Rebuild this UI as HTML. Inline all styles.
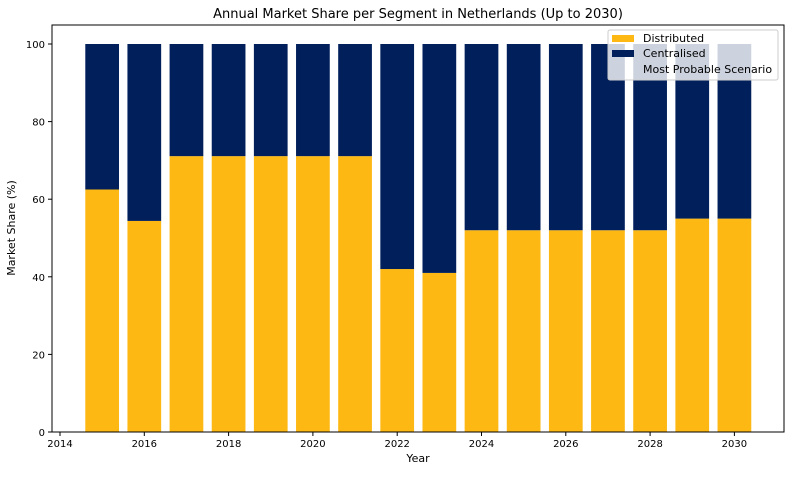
<!DOCTYPE html>
<html><head><meta charset="utf-8"><style>
body{margin:0;background:#fff;font-family:"Liberation Sans","DejaVu Sans",sans-serif;}
</style></head><body>
<svg id="chart" width="792" height="472" xmlns="http://www.w3.org/2000/svg" font-family="DejaVu Sans, Liberation Sans, sans-serif">
<text x="418" y="18" text-anchor="middle" font-size="13">Annual Market Share per Segment in Netherlands (Up to 2030)</text>
<g id="bars"></g>
<g id="axes"></g>
<text x="418" y="462" text-anchor="middle" font-size="11">Year</text>
<text x="15" y="228" text-anchor="middle" font-size="11" transform="rotate(-90 15 228)">Market Share (%)</text>
<g>
<rect x="608" y="30" width="170" height="50" rx="2" fill="#fff" fill-opacity="0.8" stroke="#ccc"/>
<rect x="612" y="35" width="22" height="7" fill="#fdb813"/>
<text x="643" y="42" font-size="11">Distributed</text>
<rect x="612" y="50" width="22" height="7" fill="#001f5b"/>
<text x="643" y="57" font-size="11">Centralised</text>
<text x="643" y="73" font-size="11">Most Probable Scenario</text>
</g>
</svg>
<script>
const years=[2015,2016,2017,2018,2019,2020,2021,2022,2023,2024,2025,2026,2027,2028,2029,2030];
const distributed=[62.5,54.4,71.1,71.1,71.1,71.1,71.1,42,41,52,52,52,52,52,55,55];
const centralised=[37.5,45.6,28.9,28.9,28.9,28.9,28.9,58,59,48,48,48,48,48,45,45];
const xTicks=[2014,2016,2018,2020,2022,2024,2026,2028,2030];
const yTicks=[0,20,40,60,80,100];
const L=52,R=784,T=25,B=432;
const x=v=>60+(v-2014)*42.15;
const y=v=>432-v*3.88;
const NS="http://www.w3.org/2000/svg";
const bars=document.getElementById('bars'),axes=document.getElementById('axes');
function mk(tag,attrs,parent){const e=document.createElementNS(NS,tag);for(const k in attrs)e.setAttribute(k,attrs[k]);parent.appendChild(e);return e;}
const bw=0.8*42.15;
years.forEach((yr,i)=>{
 const d=distributed[i],c=centralised[i];
 const r1=mk('rect',{x:x(yr)-bw/2,y:y(d),width:bw,height:y(0)-y(d),fill:'#fdb813'},bars);
 
 
 const r2=mk('rect',{x:x(yr)-bw/2,y:y(d+c),width:bw,height:y(d)-y(d+c),fill:'#001f5b'},bars);
 
 
});
const fr=mk('rect',{x:L,y:T,width:R-L,height:B-T,fill:'none',stroke:'#000','stroke-width':1},axes);


xTicks.forEach(t=>{
 mk('line',{x1:x(t),x2:x(t),y1:B,y2:B+4,stroke:'#000'},axes);
 const tx=mk('text',{x:x(t),y:B+15,'text-anchor':'middle','font-size':10},axes);
 tx.textContent=t;
 
 
});
yTicks.forEach(t=>{
 mk('line',{x1:L-4,x2:L,y1:y(t),y2:y(t),stroke:'#000'},axes);
 const tx=mk('text',{x:L-7,y:y(t)+4,'text-anchor':'end','font-size':10},axes);
 tx.textContent=t;
 
 
});
</script>
</body></html>
